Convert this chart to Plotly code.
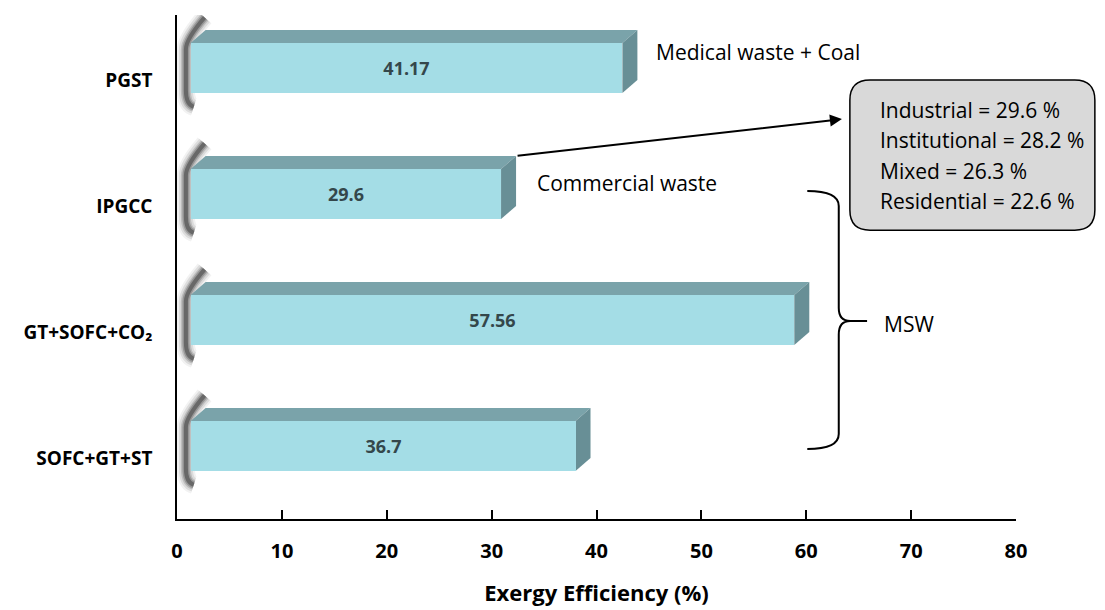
import plotly.graph_objects as go

# Exergy efficiency of waste-to-energy systems
systems = ["PGST", "IPGCC", "GT+SOFC+CO₂", "SOFC+GT+ST"]
efficiency = [41.17, 29.6, 57.56, 36.7]
feedstock = ["Medical waste + Coal", "Commercial waste", "MSW", "MSW"]
msw_breakdown = [("Industrial", 29.6), ("Institutional", 28.2),
                 ("Mixed", 26.3), ("Residential", 22.6)]
x_ticks = [0, 10, 20, 30, 40, 50, 60, 70, 80]

FONT = "'Open Sans', Lato, sans-serif"
FRONT = "#a4dde6"
TOP = "#7aa3aa"
SIDE = "#688f96"

# vertical positions, top category first
ypos = list(range(len(systems)))[::-1]

# pseudo-3D geometry (in axis units)
shift = 1.3          # front face starts slightly right of the axis
dx, dy = 1.43, 0.103  # depth of the extrusion
bw, boff = 0.397, -0.103

fig = go.Figure()
fig.add_trace(go.Bar(
    y=ypos, x=efficiency, base=[shift] * len(efficiency),
    orientation="h", width=bw, offset=boff,
    marker=dict(color=FRONT, line=dict(width=0)),
    text=[f"{v:g}" for v in efficiency],
    textposition="inside", insidetextanchor="middle",
    textfont=dict(family=FONT, size=18, color="#34474b", weight="bold"),
    hoverinfo="skip", showlegend=False,
))

shapes = []
for y, v in zip(ypos, efficiency):
    yb, yt = y + boff, y + boff + bw
    x0, x1 = shift, shift + v
    # soft shadow on the left end
    for w, a in [(18, 0.06), (14, 0.1), (10, 0.16), (7, 0.24), (4, 0.38)]:
        shapes.append(dict(
            type="path", layer="below",
            path=(f"M {x0 + dx - 0.1},{yt + dy + 0.1} "
                  f"Q {x0 - 0.45},{yt + 0.03} {x0 - 0.45},{yt - 0.05} "
                  f"L {x0 - 0.45},{yb + 0.02} "
                  f"Q {x0 - 0.45},{yb - 0.09} {x0 + 0.3},{yb - 0.11}"),
            line=dict(color=f"rgba(30,30,30,{a})", width=w),
        ))
    # top face
    shapes.append(dict(
        type="path", layer="below",
        path=f"M {x0},{yt} L {x1},{yt} L {x1 + dx},{yt + dy} L {x0 + dx},{yt + dy} Z",
        fillcolor=TOP, line=dict(width=0),
    ))
    # right side face
    shapes.append(dict(
        type="path", layer="below",
        path=f"M {x1},{yb} L {x1},{yt} L {x1 + dx},{yt + dy} L {x1 + dx},{yb + dy} Z",
        fillcolor=SIDE, line=dict(width=0),
    ))

# curly brace grouping the MSW systems
shapes.append(dict(
    type="path", layer="above",
    path=("M 60.1,2.119 Q 63.1,2.119 63.1,2.0 L 63.1,1.19 "
          "Q 63.1,1.087 64.2,1.087 L 65.8,1.087 "
          "M 64.2,1.087 Q 63.1,1.087 63.1,0.98 L 63.1,0.19 "
          "Q 63.1,0.071 60.1,0.071"),
    line=dict(color="black", width=2),
))

# rounded callout box
bx0, bx1, by0, by1 = 0.802, 1.094, 0.573, 0.871
rx, ry = 0.024, 0.04
shapes.append(dict(
    type="path", xref="paper", yref="paper", layer="above",
    path=(f"M {bx0 + rx},{by1} L {bx1 - rx},{by1} Q {bx1},{by1} {bx1},{by1 - ry} "
          f"L {bx1},{by0 + ry} Q {bx1},{by0} {bx1 - rx},{by0} "
          f"L {bx0 + rx},{by0} Q {bx0},{by0} {bx0},{by0 + ry} "
          f"L {bx0},{by1 - ry} Q {bx0},{by1} {bx0 + rx},{by1} Z"),
    fillcolor="#d9d9d9", line=dict(color="black", width=1.5),
))

annotations = []
txt = dict(family=FONT, size=21, color="black")
annotations.append(dict(x=45.5, y=3.222, xref="x", yref="y", text=feedstock[0],
                        showarrow=False, xanchor="left", yanchor="middle", font=txt))
annotations.append(dict(x=34.1, y=2.183, xref="x", yref="y", text=feedstock[1],
                        showarrow=False, xanchor="left", yanchor="middle", font=txt))
annotations.append(dict(x=67.2, y=1.063, xref="x", yref="y", text=feedstock[2],
                        showarrow=False, xanchor="left", yanchor="middle", font=txt))

# arrow from the IPGCC bar to the breakdown box
i_ipgcc = systems.index("IPGCC")
annotations.append(dict(
    x=63.4, y=2.69, xref="x", yref="y",
    ax=shift + efficiency[i_ipgcc] + dx, ay=ypos[i_ipgcc] + boff + bw + dy,
    axref="x", ayref="y", text="", showarrow=True,
    arrowhead=2, arrowsize=1.2, arrowwidth=2, arrowcolor="black",
))

line_y = [0.812, 0.752, 0.690, 0.631]
for (name, val), yy in zip(msw_breakdown, line_y):
    annotations.append(dict(
        x=0.8355, y=yy, xref="paper", yref="paper",
        text=f"{name} = {val} %", showarrow=False,
        xanchor="left", yanchor="middle", font=txt,
    ))

fig.update_layout(
    width=1105, height=610,
    margin=dict(l=177, r=89, t=15, b=91),
    paper_bgcolor="white", plot_bgcolor="white",
    shapes=shapes, annotations=annotations,
    bargap=0,
    xaxis=dict(
        range=[0, 80], tickvals=x_ticks, showgrid=False, zeroline=False,
        automargin=False,
        showline=True, linecolor="black", linewidth=1.5,
        ticks="inside", ticklen=9, tickwidth=1.5, tickcolor="black",
        tickfont=dict(family=FONT, size=20, color="black", weight="bold"),
        ticklabelstandoff=13,
        title=dict(text="Exergy Efficiency (%)", standoff=23,
                   font=dict(family=FONT, size=22, color="black", weight="bold")),
    ),
    yaxis=dict(
        range=[-0.484, 3.516], tickvals=ypos, ticktext=systems,
        showgrid=False, zeroline=False, automargin=False,
        showline=True, linecolor="black", linewidth=1.5, ticks="",
        tickfont=dict(family=FONT, size=19, color="black", weight="bold"),
        ticklabelstandoff=19,
    ),
)

fig.write_html("out.html")
